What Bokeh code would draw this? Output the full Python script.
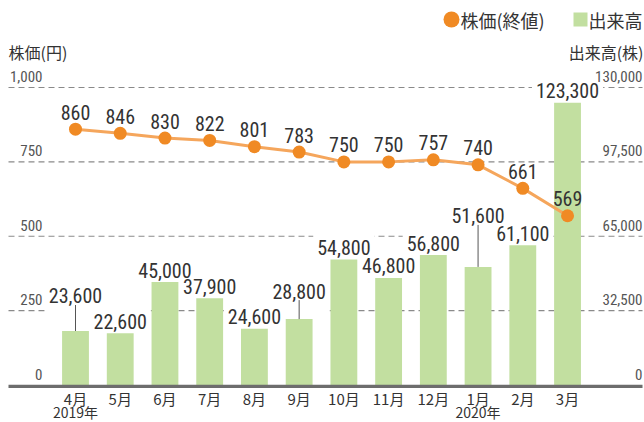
from bokeh.plotting import figure
from bokeh.models import Range1d, ColumnDataSource
from bokeh.core.properties import value
from bokeh.embed import file_html
from bokeh.resources import INLINE

# ---------------- data ----------------
months = ["4月", "5月", "6月", "7月", "8月", "9月", "10月", "11月", "12月", "1月", "2月", "3月"]
years = ["2019年", "", "", "", "", "", "", "", "", "2020年", "", ""]
price = [860, 846, 830, 822, 801, 783, 750, 750, 757, 740, 661, 569]
volume = [23600, 22600, 45000, 37900, 24600, 28800, 54800, 46800, 56800, 51600, 61100, 123300]
price_ticks = [0, 250, 500, 750, 1000]
volume_ticks = [0, 32500, 65000, 97500, 130000]
legend_price = "株価(終値)"
legend_volume = "出来高"
title_left = "株価(円)"
title_right = "出来高(株)"

# ---------------- style / layout ----------------
leader_lift = {"4月": 28, "9月": 21, "1月": 44}   # px lift of labels carried by a leader line
normal_lift = 5
BASE_FIX = 7                  # renderer draws alphabetic baseline ~7px low
W, H = 644, 422
X0, DX = 75.0, 44.73          # px of first category centre, px per category
Y0, KY = 384.5, 0.2975        # px of price 0, px per yen
VOL_PER_PRICE = volume_ticks[-1] / price_ticks[-1]

NUM_FONT = "Roboto Condensed, Roboto"
JP_FONT = "Noto Sans CJK JP"
ORANGE = "#f08a24"
ORANGE_LINE = "#f5a65c"
GREEN = "#c2dfa0"
TXT = "#333333"
TICK = "#555555"


def dx(px):
    return (px - X0) / DX


def dy(py):
    return (Y0 - py) / KY


p = figure(width=W, height=H,
           x_range=Range1d(dx(0), dx(W)), y_range=Range1d(dy(H), dy(0)),
           x_axis_type=None, y_axis_type=None,
           output_backend="svg", toolbar_location=None, min_border=0,
           outline_line_color=None, background_fill_color="white",
           border_fill_color="white")
p.extra_y_ranges = {"vol": Range1d(dy(H) * VOL_PER_PRICE, dy(0) * VOL_PER_PRICE)}
p.grid.visible = False

idx = list(range(len(months)))

# grid lines
gt = price_ticks[1:]
p.segment(x0=[dx(8)] * len(gt), x1=[dx(642)] * len(gt), y0=gt, y1=gt,
          line_color="#8a8a8a", line_width=1.2, line_dash="6 4")

# volume label data
norm = dict(x=[], top=[], text=[], off=[])
lead = dict(x=[], top=[], text=[], off=[], y1=[])
for i, m in enumerate(months):
    if m in leader_lift:
        l = leader_lift[m]
        lead["x"].append(i); lead["top"].append(volume[i]); lead["text"].append(f"{volume[i]:,}")
        lead["off"].append(-l - BASE_FIX)
        lead["y1"].append(volume[i] + (l - 2) / KY * VOL_PER_PRICE)
    else:
        norm["x"].append(i); norm["top"].append(volume[i]); norm["text"].append(f"{volume[i]:,}")
        norm["off"].append(-normal_lift - BASE_FIX)
nsrc = ColumnDataSource(norm)
lsrc = ColumnDataSource(lead)

label_kw = dict(x="x", y="top", text="text", y_offset="off", y_range_name="vol",
                text_font=value(NUM_FONT), text_font_size="20px",
                text_align="center", text_baseline="alphabetic")

# white knock-out boxes behind labels (hide the grid lines there), drawn under the bars
p.text(source=nsrc, text_alpha=0, background_fill_color="white",
       padding={"left": 4, "right": 4, "top": 16, "bottom": 0}, **label_kw)
p.text(source=lsrc, text_alpha=0, background_fill_color="white",
       padding={"left": 4, "right": 4, "top": 16, "bottom": 14}, **label_kw)

# bars
p.vbar(x=idx, top=volume, width=0.6, y_range_name="vol", fill_color=GREEN, line_color=None)

# baseline
p.segment(x0=[dx(8)], x1=[dx(642)], y0=[dy(385.8)], y1=[dy(385.8)],
          line_color="#6d6d6d", line_width=3.2)

# volume labels
p.text(source=nsrc, text_color=TXT, **label_kw)
p.text(source=lsrc, text_color=TXT, **label_kw)
p.segment(x0="x", x1="x", y0="top", y1="y1", source=lsrc, y_range_name="vol",
          line_color="#555555", line_width=1)

# price line + dots + labels
p.line(idx, price, line_color=ORANGE_LINE, line_width=3)
p.scatter(idx, price, size=13, fill_color=ORANGE, line_color=None)
p.text(x=idx, y=price, text=[str(v) for v in price], y_offset=-10 - BASE_FIX,
       text_font=value(NUM_FONT), text_font_size="20px", text_color=TXT,
       text_align="center", text_baseline="alphabetic")

# tick labels
p.text(x=[dx(42)] * len(price_ticks), y=price_ticks, text=[f"{t:,}" for t in price_ticks],
       y_offset=-4 - BASE_FIX, text_font=value(NUM_FONT), text_font_size="15px", text_color=TICK,
       text_align="right", text_baseline="alphabetic")
p.text(x=[dx(642)] * len(volume_ticks), y=volume_ticks, text=[f"{t:,}" for t in volume_ticks],
       y_offset=-4 - BASE_FIX, y_range_name="vol", text_font=value(NUM_FONT), text_font_size="15px",
       text_color=TICK, text_align="right", text_baseline="alphabetic")

# category labels
p.text(x=idx, y=[dy(398)] * len(idx), text=months, text_font=value(JP_FONT),
       text_font_size="15px", text_color=TXT, text_align="center", text_baseline="middle")
p.text(x=idx, y=[dy(411)] * len(idx), text=years, text_font=value(JP_FONT),
       text_font_size="14px", text_color=TXT, text_align="center", text_baseline="middle")

# axis titles
p.text(x=[dx(8)], y=[dy(51)], text=[title_left], text_font=value(JP_FONT),
       text_font_size="16px", text_color=TXT, text_align="left", text_baseline="middle")
p.text(x=[dx(643)], y=[dy(51)], text=[title_right], text_font=value(JP_FONT),
       text_font_size="16px", text_color=TXT, text_align="right", text_baseline="middle")

# legend
p.scatter(x=[dx(451)], y=[dy(19)], size=16, fill_color=ORANGE, line_color=None)
p.text(x=[dx(460)], y=[dy(19)], text=[legend_price], text_font=value(JP_FONT),
       text_font_size="18px", text_color=TXT, text_align="left", text_baseline="middle")
p.scatter(x=[dx(580)], y=[dy(19)], size=14, marker="square", fill_color=GREEN, line_color=None)
p.text(x=[dx(588)], y=[dy(19)], text=[legend_volume], text_font=value(JP_FONT),
       text_font_size="18px", text_color=TXT, text_align="left", text_baseline="middle")

with open("out.html", "w", encoding="utf-8") as f:
    f.write(file_html(p, INLINE))
